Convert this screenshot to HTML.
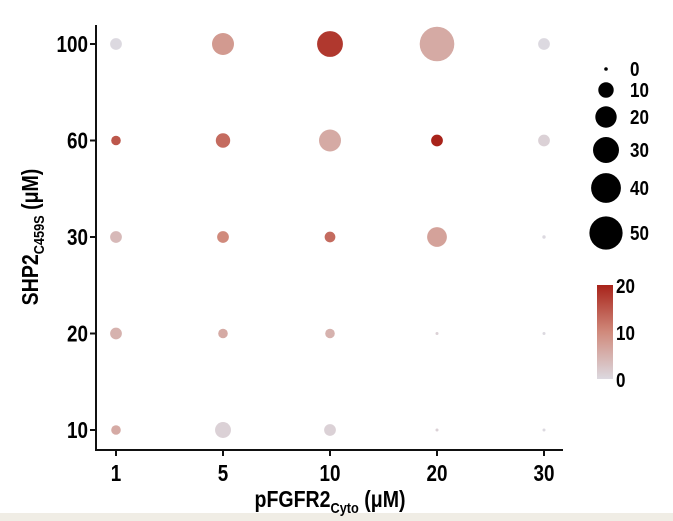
<!DOCTYPE html>
<html><head><meta charset="utf-8"><style>
html,body{margin:0;padding:0;background:#fff;}
svg{display:block;font-family:"Liberation Sans",sans-serif;font-weight:bold;}
</style></head><body>
<svg id="chart" width="673" height="521" xmlns="http://www.w3.org/2000/svg">
<defs><linearGradient id="cg" x1="0" y1="1" x2="0" y2="0">
<stop offset="0" stop-color="#dcd9e0"/><stop offset="0.5" stop-color="#d08a7c"/><stop offset="1" stop-color="#a8231a"/></linearGradient></defs>
<rect x="0" y="513" width="673" height="8" fill="#f0ede5"/>
<g id="marks"></g>
<g id="axes"></g>
<g id="legend"></g>
<text transform="translate(330,507) scale(0.85,1)" text-anchor="middle" font-size="23">pFGFR2<tspan font-size="15" dy="6">Cyto</tspan><tspan dy="-6"> (μM)</tspan></text>
<text transform="translate(38,237) rotate(-90) scale(0.85,1)" text-anchor="middle" font-size="23">SHP2<tspan font-size="15" dy="6">C459S</tspan><tspan dy="-6"> (μM)</tspan></text>
</svg>
<script>
const xCats = ["1","5","10","20","30"];
const yCats = ["10","20","30","60","100"];
const sizeRow100 = [6,21,29,52,6];
const sizeRow60 = [4,9,21,6,6];
const sizeRow30 = [6,6,5,17,0.5];
const sizeRow20 = [6,4,4,0.4,0.3];
const sizeRow10 = [4,11,6,0.4,0.3];
const colorRow100 = [0,8,18,6,0];
const colorRow60 = [15,13,6,20,1];
const colorRow30 = [4,10,13,7,0];
const colorRow20 = [5,6,5,1,0];
const colorRow10 = [6,1,1,1,0];
const sizeLegendValues = [0,10,20,30,40,50];
const colorTicks = [0,10,20];

const NS="http://www.w3.org/2000/svg";
function xPos(i){return 116+i*(544-116)/4;}
function yPos(j){return 430-j*(430-44)/4;}
function rScale(v){return Math.max(1.5,2.4*Math.sqrt(v));}
function lerp(a,b,t){return a.map((v,i)=>Math.round(v+(b[i]-v)*t));}
function cScale(v){const c0=[220,217,224],c1=[208,138,124],c2=[168,35,26];
 const t=Math.max(0,Math.min(1,v/20));const c=t<0.5?lerp(c0,c1,t*2):lerp(c1,c2,(t-0.5)*2);return `rgb(${c.join(',')})`;}
function mk(tag,attrs,parent){const e=document.createElementNS(NS,tag);for(const k in attrs)e.setAttribute(k,attrs[k]);parent.appendChild(e);return e;}

const sizes=[sizeRow10,sizeRow20,sizeRow30,sizeRow60,sizeRow100];
const colors=[colorRow10,colorRow20,colorRow30,colorRow60,colorRow100];
const marks=document.getElementById('marks');
yCats.forEach((yc,j)=>{xCats.forEach((xc,i)=>{
 const c=mk('circle',{cx:xPos(i),cy:yPos(j),r:rScale(sizes[j][i]),fill:cScale(colors[j][i])},marks);
 
 
});});

const axes=document.getElementById('axes');
const yl=mk('line',{x1:96,y1:25,x2:96,y2:451,stroke:'#111','stroke-width':2},axes);


const xl=mk('line',{x1:95,y1:450,x2:563,y2:450,stroke:'#111','stroke-width':2},axes);


xCats.forEach((c,i)=>{
 mk('line',{x1:xPos(i),y1:450,x2:xPos(i),y2:456,stroke:'#111','stroke-width':2},axes);
 const t=mk('text',{transform:`translate(${xPos(i)},481) scale(0.82,1)`,'text-anchor':'middle','font-size':23},axes);t.textContent=c;
 
 
});
yCats.forEach((c,j)=>{
 mk('line',{x1:90,y1:yPos(j),x2:96,y2:yPos(j),stroke:'#111','stroke-width':2},axes);
 const t=mk('text',{transform:`translate(88,${yPos(j)+8}) scale(0.82,1)`,'text-anchor':'end','font-size':23},axes);t.textContent=c;
 
 
});

const lg=document.getElementById('legend');
const lgY=[69,90,117,150,188,233];
sizeLegendValues.forEach((v,k)=>{
 const c=mk('circle',{cx:606,cy:lgY[k],r:v===0?1.8:rScale(v)*0.95+0.5,fill:'#000'},lg);
 
 
 const t=mk('text',{transform:`translate(630,${lgY[k]+7}) scale(0.85,1)`,'font-size':20},lg);t.textContent=v;
 
 
});
const cb=mk('rect',{x:597,y:285,width:16,height:94,fill:'url(#cg)'},lg);


colorTicks.forEach(v=>{
 const y=379-v/20*94;
 const t=mk('text',{transform:`translate(616,${y+8}) scale(0.85,1)`,'font-size':20},lg);t.textContent=v;
 
 
});
</script>
</body></html>
